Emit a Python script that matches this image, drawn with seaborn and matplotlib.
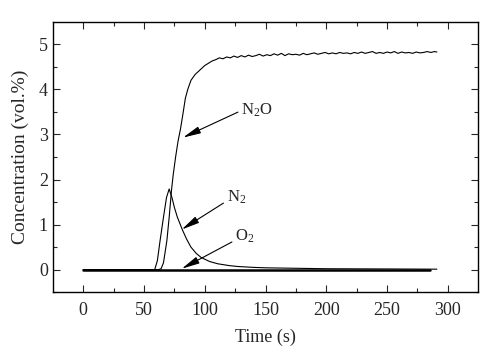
import numpy as np
import pandas as pd
import seaborn as sns
import matplotlib.pyplot as plt

# N2O: rise + noisy plateau
n2o_t = [0, 62, 64, 66, 68.8, 70.7, 72.6, 74, 76, 78, 80, 82, 84, 86, 88.6, 92, 96,
         100, 103, 106, 109, 112, 115, 118, 121, 124, 127,
         130, 133, 136, 139, 142, 145, 148, 151, 154, 157,
         160, 163, 166, 169, 172, 175, 178, 181, 184, 187,
         190, 193, 196, 199, 202, 205, 208, 211, 214, 217,
         220, 223, 226, 229, 232, 235, 238, 241, 244, 247,
         250, 253, 256, 259, 262, 265, 268, 271, 274, 277,
         280, 283, 286, 289, 291]
n2o_c = [0, 0, 0.02, 0.15, 0.64, 1.16, 1.76, 2.1, 2.5, 2.85, 3.12, 3.45, 3.8, 4.0, 4.2, 4.33, 4.43,
         4.53, 4.58, 4.63, 4.66, 4.70, 4.68, 4.72, 4.70, 4.74, 4.71,
         4.75, 4.72, 4.76, 4.73, 4.75, 4.78, 4.74, 4.77, 4.75, 4.79,
         4.76, 4.80, 4.75, 4.79, 4.77, 4.78, 4.76, 4.80, 4.77, 4.79,
         4.81, 4.78, 4.80, 4.82, 4.79, 4.81, 4.79, 4.82, 4.80, 4.81,
         4.79, 4.82, 4.80, 4.83, 4.80, 4.82, 4.84, 4.80, 4.82, 4.80,
         4.83, 4.81, 4.84, 4.80, 4.83, 4.81, 4.82, 4.80, 4.83, 4.81,
         4.82, 4.84, 4.82, 4.84, 4.83]

# N2: peak around 70 s
n2_t = [0, 58.8, 61, 63.2, 66, 68.5, 70.7, 73, 75, 77.5, 81.8, 85, 88.6, 93, 97,
        104, 110.7, 120, 127, 140, 150, 175, 200, 250, 291]
n2_c = [0, 0, 0.2, 0.64, 1.16, 1.6, 1.79, 1.6, 1.38, 1.16, 0.87, 0.68, 0.5, 0.36, 0.27,
        0.18, 0.13, 0.09, 0.07, 0.05, 0.04, 0.03, 0.02, 0.015, 0.01]

# O2: flat
o2_t = [0, 285]
o2_c = [0, 0]

sns.set_style("ticks")
plt.rcParams["font.family"] = ["Liberation Serif", "DejaVu Serif"]
plt.rcParams["mathtext.default"] = "regular"
plt.rcParams["xtick.direction"] = "in"
plt.rcParams["ytick.direction"] = "in"

fig = plt.figure(figsize=(4.85, 3.52), dpi=100)
ax = fig.add_axes([0.109, 0.170, 0.877, 0.768])

sns.lineplot(x=o2_t, y=o2_c, ax=ax, color="black", lw=1.8)
sns.lineplot(x=n2_t, y=n2_c, ax=ax, color="black", lw=0.8)
sns.lineplot(x=n2o_t, y=n2o_c, ax=ax, color="black", lw=0.8)

ax.set_xlim(-25, 325)
ax.set_ylim(-0.5, 5.5)
ax.set_xticks([0, 50, 100, 150, 200, 250, 300])
ax.set_xticks([25, 75, 125, 175, 225, 275], minor=True)
ax.set_yticks([0, 1, 2, 3, 4, 5])
ax.set_yticks([-0.5, 0.5, 1.5, 2.5, 3.5, 4.5], minor=True)
ax.tick_params(which="both", top=True, right=True, labelsize=13, width=0.8)
ax.tick_params(which="major", length=5)
ax.tick_params(which="minor", length=3)
ax.tick_params(axis="x", which="major", pad=7)
for s in ax.spines.values():
    s.set_linewidth(1.0)
    s.set_color("black")

ax.set_xlabel("Time (s)", fontsize=13, labelpad=7)
ax.set_ylabel("Concentration (vol.%)", fontsize=14, labelpad=7)

arrow = dict(arrowstyle="-|>,head_length=0.9,head_width=0.18", color="black",
             lw=0.8, shrinkA=0, shrinkB=0)
ax.annotate("N$_2$O", xy=(82, 2.93), xytext=(143, 3.53), fontsize=12,
            ha="center", va="center", arrowprops=dict(arrow, relpos=(0, 0.5)))
ax.annotate("N$_2$", xy=(81, 0.89), xytext=(126, 1.6), fontsize=12,
            ha="center", va="center", arrowprops=dict(arrow, relpos=(0, 0.3)))
ax.annotate("O$_2$", xy=(81, 0.02), xytext=(133, 0.73), fontsize=12,
            ha="center", va="center", arrowprops=dict(arrow, relpos=(0, 0.3)))

fig.savefig("out.png", dpi=100)
